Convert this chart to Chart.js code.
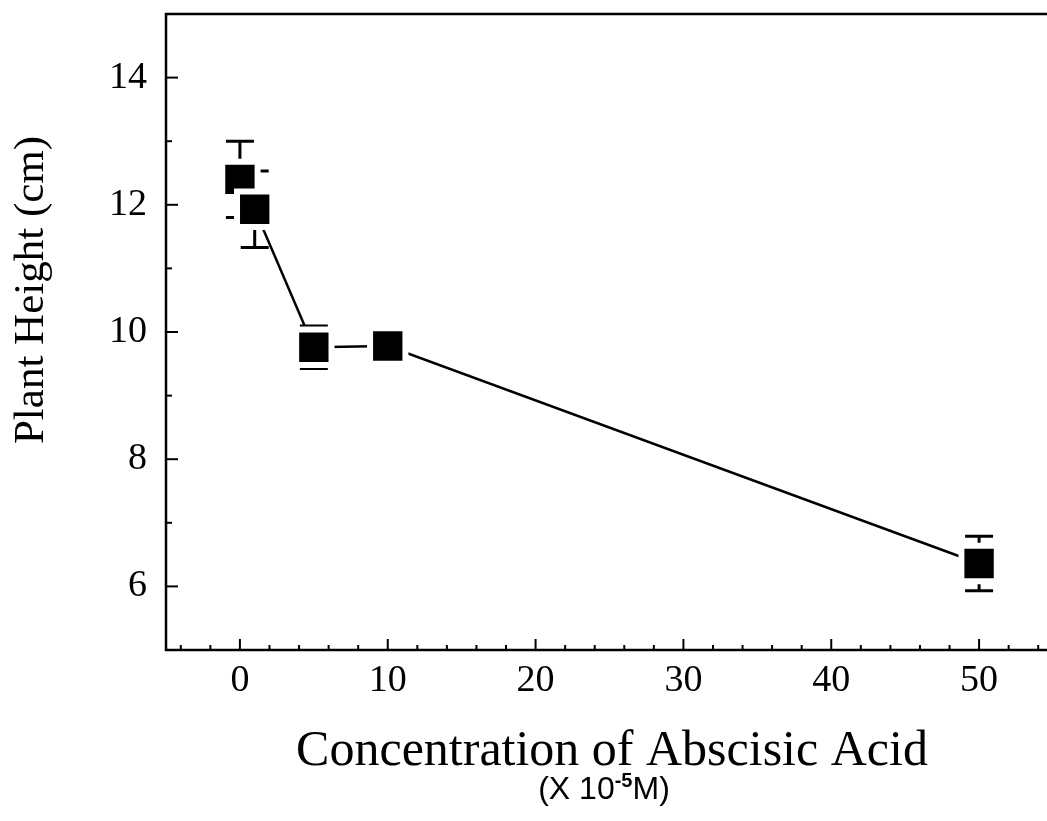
<!DOCTYPE html>
<html>
<head>
<meta charset="utf-8">
<script src="https://cdn.jsdelivr.net/npm/chart.js@4/dist/chart.umd.min.js"></script>
<style>
  html, body { margin: 0; padding: 0; background: #fff; overflow: hidden; }
  #wrap { width: 1056px; height: 821px; }
</style>
</head>
<body>
<div id="wrap"><canvas id="chart" width="1056" height="821"></canvas></div>
<script>
// data
const concentrations = [0, 1, 5, 10, 50];          // x 10^-5 M
const heights        = [12.4, 11.93, 9.76, 9.78, 6.36];
const errors         = [0.6, 0.6, 0.335, 0.12, 0.43];

const xMajorTicks = [0, 10, 20, 30, 40, 50];
const yMajorTicks = [6, 8, 10, 12, 14];

const serif = "'Liberation Serif', 'Times New Roman', serif";
const sans  = "'Liberation Sans', Arial, sans-serif";

// frame, inward ticks and error bars
const decorations = {
  id: 'decorations',
  beforeDatasetsDraw(chart) {
    const { ctx, chartArea: a, scales: { x, y } } = chart;
    ctx.save();
    ctx.strokeStyle = '#000';
    ctx.lineCap = 'butt';

    // frame
    ctx.lineWidth = 2.5;
    ctx.strokeRect(a.left, a.top, a.right - a.left, a.bottom - a.top);

    // x ticks, pointing up into the plot
    ctx.lineWidth = 2;
    for (let v = -4; v <= 54; v += 2) {
      const px = x.getPixelForValue(v);
      const len = v % 10 === 0 ? 11 : 5;
      ctx.beginPath();
      ctx.moveTo(px, a.bottom);
      ctx.lineTo(px, a.bottom - len);
      ctx.stroke();
    }
    // y ticks, pointing right into the plot
    for (let v = 6; v <= 14; v += 1) {
      const py = y.getPixelForValue(v);
      const len = v % 2 === 0 ? 12 : 6;
      ctx.beginPath();
      ctx.moveTo(a.left, py);
      ctx.lineTo(a.left + len, py);
      ctx.stroke();
    }

    // error bars
    ctx.lineWidth = 3;
    concentrations.forEach((c, i) => {
      const px = x.getPixelForValue(c);
      const top = y.getPixelForValue(heights[i] + errors[i]);
      const bot = y.getPixelForValue(heights[i] - errors[i]);
      ctx.beginPath();
      ctx.moveTo(px, top); ctx.lineTo(px, bot);
      ctx.moveTo(px - 14, top); ctx.lineTo(px + 14, top);
      ctx.moveTo(px - 14, bot); ctx.lineTo(px + 14, bot);
      ctx.stroke();
    });
    ctx.restore();
  },
  afterDraw(chart) {
    const { ctx } = chart;
    ctx.save();
    ctx.fillStyle = '#000';

    // x axis title
    ctx.font = '50px ' + serif;
    ctx.textAlign = 'center';
    ctx.textBaseline = 'alphabetic';
    ctx.fillText('Concentration of Abscisic Acid', 612, 765);

    // unit line: (X 10^-5 M)
    const partA = '(X 10', sup = '-5', partB = 'M)';
    ctx.font = '32px ' + sans;
    const wA = ctx.measureText(partA).width;
    const wB = ctx.measureText(partB).width;
    ctx.font = 'bold 20px ' + sans;
    const wS = ctx.measureText(sup).width;
    let sx = 604 - (wA + wS + wB) / 2;
    ctx.textAlign = 'left';
    ctx.font = '32px ' + sans;
    ctx.fillText(partA, sx, 799);
    sx += wA;
    ctx.font = 'bold 20px ' + sans;
    ctx.fillText(sup, sx, 787);
    sx += wS;
    ctx.font = '32px ' + sans;
    ctx.fillText(partB, sx, 799);

    // y axis title
    ctx.translate(43, 290);
    ctx.rotate(-Math.PI / 2);
    ctx.font = '43px ' + serif;
    ctx.textAlign = 'center';
    ctx.fillText('Plant Height (cm)', 0, 0);
    ctx.restore();
  }
};

new Chart(document.getElementById('chart'), {
  type: 'scatter',
  data: {
    datasets: [{
      data: concentrations.map((c, i) => ({ x: c, y: heights[i] })),
      showLine: true,
      borderColor: '#000',
      borderWidth: 2.5,
      tension: 0,
      pointStyle: 'rect',
      pointRadius: 25,
      pointHoverRadius: 25,
      pointBackgroundColor: '#000',
      pointBorderColor: '#fff',
      pointBorderWidth: 6,
      clip: false,
    }],
  },
  options: {
    responsive: false,
    animation: false,
    devicePixelRatio: 1,
    layout: { autoPadding: false, padding: { top: 14, right: 3, left: 0, bottom: 0 } },
    plugins: { legend: { display: false }, tooltip: { enabled: false } },
    scales: {
      x: {
        type: 'linear',
        min: -5, max: 55,
        afterBuildTicks: s => { s.ticks = xMajorTicks.map(value => ({ value })); },
        afterFit: s => { s.height = 171; s.paddingLeft = 0; s.paddingRight = 0; },
        grid: { display: false, drawTicks: false },
        border: { display: false },
        ticks: { color: '#000', padding: 8, maxRotation: 0, font: { family: serif, size: 38 } },
      },
      y: {
        type: 'linear',
        min: 5, max: 15,
        afterBuildTicks: s => { s.ticks = yMajorTicks.map(value => ({ value })); },
        afterFit: s => { s.width = 166; s.paddingTop = 0; s.paddingBottom = 0; },
        grid: { display: false, drawTicks: false },
        border: { display: false },
        ticks: { color: '#000', padding: 19, font: { family: serif, size: 38 } },
      },
    },
  },
  plugins: [decorations],
});
</script>
</body>
</html>
